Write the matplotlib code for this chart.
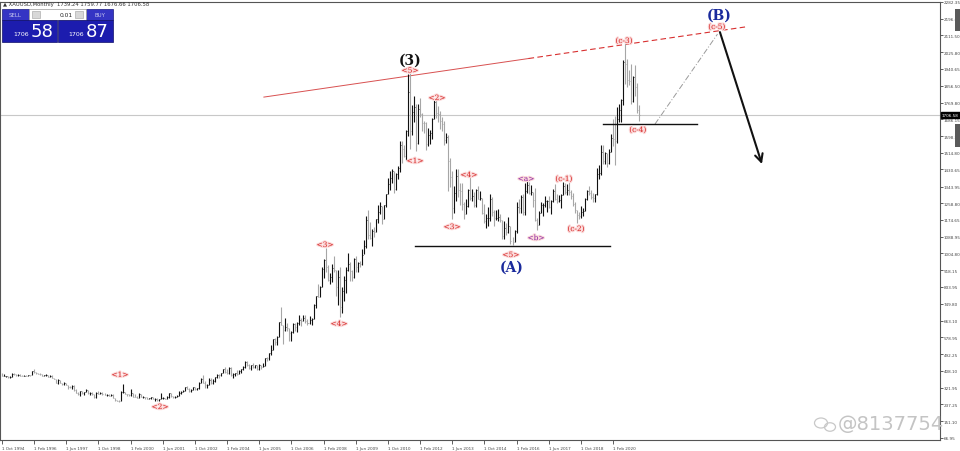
import matplotlib
matplotlib.use("Agg")
import matplotlib.pyplot as plt
import matplotlib.patheffects as pe
from matplotlib.patches import Rectangle, Ellipse

# XAUUSD monthly bars, Oct 1994 .. Mar 2021 (one row per calendar year)
HIGH = [
    396, 390, 384,
    381, 380, 396, 396, 392, 391, 390, 389, 386, 387, 389, 389,
    408, 417, 402, 398, 395, 391, 388, 390, 389, 386, 385, 372,
    368, 367, 361, 348, 349, 346, 335, 332, 336, 337, 315, 300,
    306, 305, 303, 315, 311, 298, 298, 289, 301, 305, 302, 298,
    293, 291, 291, 291, 290, 271, 262, 259, 307, 339, 302, 292,
    292, 317, 296, 289, 281, 294, 290, 279, 276, 275, 270, 276,
    273, 270, 270, 265, 293, 275, 272, 280, 294, 294, 280, 281,
    287, 305, 304, 310, 328, 332, 323, 316, 326, 325, 323, 349,
    370, 389, 354, 341, 372, 372, 366, 376, 394, 392, 399, 417,
    427, 415, 428, 428, 396, 398, 410, 411, 417, 431, 456, 457,
    441, 439, 446, 438, 439, 443, 438, 447, 475, 478, 497, 538,
    571, 573, 586, 654, 730, 643, 677, 650, 628, 609, 652, 649,
    657, 691, 674, 694, 690, 670, 685, 678, 746, 790, 848, 838,
    935, 977, 1033, 947, 907, 951, 989, 920, 918, 937, 833, 887,
    935, 1006, 962, 919, 982, 989, 960, 964, 1025, 1071, 1196, 1227,
    1162, 1127, 1136, 1180, 1249, 1266, 1244, 1251, 1308, 1388, 1425, 1432,
    1424, 1412, 1448, 1576, 1577, 1553, 1632, 1913, 1921, 1757, 1804, 1764,
    1764, 1792, 1718, 1676, 1669, 1641, 1633, 1692, 1788, 1796, 1755, 1726,
    1695, 1677, 1617, 1604, 1488, 1425, 1348, 1434, 1434, 1361, 1361, 1267,
    1280, 1332, 1392, 1331, 1315, 1332, 1345, 1323, 1287, 1256, 1205, 1239,
    1307, 1293, 1223, 1224, 1232, 1205, 1175, 1170, 1157, 1191, 1142, 1088,
    1123, 1263, 1283, 1303, 1304, 1363, 1375, 1366, 1352, 1318, 1337, 1183,
    1220, 1264, 1262, 1295, 1275, 1296, 1274, 1331, 1357, 1306, 1299, 1308,
    1366, 1362, 1356, 1366, 1326, 1309, 1266, 1227, 1214, 1243, 1237, 1284,
    1326, 1347, 1325, 1310, 1306, 1439, 1453, 1555, 1557, 1517, 1516, 1535,
    1611, 1689, 1704, 1747, 1765, 1789, 1984, 2075, 1992, 1933, 1966, 1907,
    1959, 1871, 1760,
]
LOW = [
    383, 381, 375,
    372, 372, 375, 387, 382, 384, 382, 380, 381, 381, 381, 384,
    385, 398, 393, 390, 389, 380, 380, 384, 378, 377, 370, 366,
    344, 340, 346, 337, 336, 334, 318, 320, 318, 306, 295, 283,
    278, 289, 287, 299, 291, 286, 287, 271, 272, 290, 292, 285,
    283, 282, 278, 278, 268, 256, 253, 252, 254, 293, 288, 279,
    280, 282, 275, 273, 270, 272, 275, 270, 267, 263, 263, 267,
    263, 255, 256, 255, 263, 265, 264, 264, 270, 277, 270, 272,
    276, 282, 288, 299, 307, 314, 301, 300, 311, 310, 313, 315,
    344, 347, 320, 319, 335, 342, 342, 351, 373, 371, 380, 397,
    399, 391, 390, 384, 371, 383, 387, 390, 398, 411, 423, 432,
    418, 411, 424, 422, 413, 414, 418, 427, 432, 460, 465, 490,
    513, 538, 538, 581, 640, 542, 612, 612, 561, 560, 602, 610,
    604, 643, 636, 660, 653, 639, 648, 643, 670, 728, 781, 782,
    834, 880, 911, 866, 850, 857, 908, 786, 740, 681, 704, 762,
    802, 917, 866, 865, 879, 910, 908, 934, 945, 999, 1031, 1075,
    1075, 1044, 1089, 1111, 1159, 1203, 1155, 1181, 1242, 1308, 1328, 1364,
    1309, 1327, 1381, 1417, 1462, 1495, 1480, 1601, 1535, 1603, 1672, 1523,
    1562, 1696, 1627, 1614, 1527, 1549, 1562, 1583, 1685, 1693, 1672, 1636,
    1626, 1555, 1563, 1321, 1339, 1180, 1208, 1271, 1292, 1251, 1227, 1180,
    1203, 1240, 1277, 1268, 1240, 1240, 1281, 1273, 1206, 1160, 1131, 1142,
    1167, 1192, 1142, 1175, 1170, 1162, 1077, 1078, 1099, 1106, 1053, 1046,
    1062, 1108, 1207, 1209, 1200, 1200, 1311, 1304, 1302, 1241, 1171, 1122,
    1146, 1208, 1195, 1241, 1214, 1236, 1205, 1265, 1275, 1261, 1264, 1236,
    1302, 1307, 1303, 1301, 1282, 1245, 1211, 1160, 1180, 1183, 1196, 1221,
    1276, 1303, 1281, 1266, 1266, 1301, 1382, 1400, 1459, 1459, 1445, 1459,
    1517, 1548, 1451, 1567, 1670, 1671, 1757, 1863, 1849, 1860, 1764, 1775,
    1803, 1717, 1677,
]
CLOSE = [
    383, 383, 383,
    375, 376, 392, 390, 385, 387, 383, 382, 384, 383, 388, 387,
    406, 401, 396, 393, 391, 382, 385, 387, 379, 380, 371, 369,
    346, 359, 348, 340, 346, 335, 326, 325, 332, 311, 297, 290,
    305, 297, 301, 311, 294, 296, 289, 273, 294, 292, 295, 288,
    287, 287, 280, 287, 269, 261, 256, 255, 299, 299, 291, 290,
    283, 294, 277, 275, 272, 288, 277, 277, 274, 265, 269, 274,
    266, 267, 258, 263, 268, 271, 266, 273, 293, 279, 276, 277,
    282, 297, 301, 308, 327, 318, 305, 313, 324, 317, 319, 347,
    368, 348, 335, 337, 361, 346, 355, 376, 388, 386, 398, 416,
    400, 396, 424, 388, 393, 396, 391, 407, 416, 426, 453, 438,
    422, 436, 428, 436, 415, 437, 429, 433, 473, 471, 496, 513,
    569, 556, 582, 654, 643, 614, 633, 624, 599, 604, 647, 632,
    651, 665, 662, 677, 659, 651, 666, 672, 743, 790, 784, 834,
    923, 972, 934, 871, 886, 930, 918, 833, 885, 731, 815, 870,
    920, 952, 917, 883, 976, 935, 955, 950, 996, 1040, 1176, 1097,
    1081, 1119, 1113, 1180, 1213, 1244, 1181, 1248, 1308, 1358, 1386, 1421,
    1332, 1409, 1439, 1556, 1536, 1500, 1628, 1826, 1624, 1722, 1746, 1564,
    1737, 1711, 1668, 1664, 1560, 1604, 1614, 1687, 1772, 1719, 1712, 1675,
    1663, 1580, 1597, 1472, 1393, 1234, 1313, 1396, 1327, 1323, 1253, 1202,
    1244, 1326, 1284, 1296, 1250, 1327, 1282, 1286, 1210, 1171, 1182, 1184,
    1283, 1213, 1183, 1183, 1191, 1172, 1095, 1132, 1115, 1142, 1065, 1061,
    1118, 1238, 1233, 1292, 1215, 1322, 1350, 1309, 1316, 1276, 1174, 1151,
    1211, 1249, 1249, 1268, 1268, 1242, 1269, 1322, 1280, 1271, 1275, 1303,
    1345, 1318, 1325, 1315, 1298, 1253, 1224, 1201, 1192, 1215, 1222, 1282,
    1321, 1313, 1292, 1284, 1305, 1409, 1413, 1520, 1472, 1512, 1464, 1517,
    1589, 1585, 1577, 1687, 1730, 1781, 1975, 1968, 1886, 1879, 1776, 1898,
    1847, 1734, 1707,
]
FIRST_OPEN = 392
LAST_PRICE = 1706.58

XTICK_LABELS = ["1 Oct 1994", "1 Feb 1996", "1 Jun 1997", "1 Oct 1998",
                "1 Feb 2000", "1 Jun 2001", "1 Oct 2002", "1 Feb 2004",
                "1 Jun 2005", "1 Oct 2006", "1 Feb 2008", "1 Jun 2009",
                "1 Oct 2010", "1 Feb 2012", "1 Jun 2013", "1 Oct 2014",
                "1 Feb 2016", "1 Jun 2017", "1 Oct 2018", "1 Feb 2020"]
YTICKS = [2282.35, 2196.65, 2111.50, 2025.80, 1940.65, 1856.50, 1769.80,
          1686.15, 1598.95, 1514.80, 1430.65, 1343.95, 1258.80, 1174.65,
          1088.95, 1004.80, 918.15, 833.95, 749.80, 663.10, 578.95, 492.25,
          408.10, 321.95, 237.25, 151.10, 66.95]

# wave labels: (month index, price, text, colour)
WAVE_LABELS = [
    (58.7, 387, "<1>", "#d42020"), (78.6, 224, "<2>", "#d42020"),
    (160.7, 1047, "<3>", "#d42020"), (167.7, 646, "<4>", "#d42020"),
    (203, 1932, "<5>", "#d42020"), (205.5, 1473, "<1>", "#d42020"),
    (216.4, 1793, "<2>", "#d42020"), (223.9, 1138, "<3>", "#d42020"),
    (232.3, 1402, "<4>", "#d42020"), (253.2, 996, "<5>", "#d42020"),
    (260.7, 1382, "<a>", "#8a1fa0"), (265.7, 1082, "<b>", "#8a1fa0"),
    (279.6, 1382, "(c-1)", "#d42020"), (285.6, 1128, "(c-2)", "#d42020"),
    (309.5, 2083, "(c-3)", "#d42020"), (316.4, 1631, "(c-4)", "#d42020"),
    (355.7, 2154, "(c-5)", "#d42020"),
]
DEGREE_LABELS = [(203, 1986, "(3)", "#111111"), (253.6, 935, "(A)", "#1a2a9c"),
                 (356.7, 2215, "(B)", "#1a2a9c")]

fig = plt.figure(figsize=(9.6, 4.52), dpi=100)
ax = fig.add_axes([0, 11 / 452, 940 / 960, 438.3 / 452])
ax.set_xlim(-0.995, 466.7)
ax.set_ylim(56.75, 2282.35)

opens = [FIRST_OPEN] + CLOSE[:-1]
idx = list(range(len(HIGH)))
colors = ["#111111" if c >= o else "#a6a6a6" for o, c in zip(opens, CLOSE)]
ax.vlines(idx, LOW, HIGH, colors=colors, lw=0.8, zorder=3)
ax.hlines(CLOSE, idx, [i + 0.5 for i in idx], colors=colors, lw=0.6, zorder=3)

# current price line
ax.axhline(LAST_PRICE, color="#c8c8c8", lw=0.8, zorder=1)

# upper trend line (solid then dashed projection)
tx0, ty0, tx1, ty1 = 130.3, 1798, 369.7, 2154
split = 262
ysplit = ty0 + (split - tx0) / (tx1 - tx0) * (ty1 - ty0)
ax.plot([tx0, split], [ty0, ysplit], color="#d85050", lw=0.7, zorder=2)
ax.plot([split, tx1], [ysplit, ty1], color="#d83030", lw=0.8, ls=(0, (5, 3)), zorder=2)

# supports
ax.plot([205.5, 302.5], [1042, 1042], color="#111111", lw=1.0, zorder=4)
ax.plot([299, 345.8], [1661, 1661], color="#111111", lw=1.0, zorder=4)
# projection to (B) and expected drop
ax.plot([324.9, 356.0], [1661, 2118], color="#9a9a9a", lw=0.7, ls=(0, (6, 2, 1, 2)), zorder=2)
ax.annotate("", xy=(378.1, 1458), xytext=(357.2, 2128),
            arrowprops=dict(arrowstyle="->", color="#111111", lw=1.5,
                            mutation_scale=14, shrinkA=0, shrinkB=0), zorder=5)

halo = [pe.withStroke(linewidth=1.6, foreground="#fbdada")]
for x, y, s, c in WAVE_LABELS:
    ax.text(x, y, s, color=c, fontsize=5.3, family="DejaVu Serif",
            ha="center", va="center", path_effects=halo, zorder=6)
for x, y, s, c in DEGREE_LABELS:
    ax.text(x, y, s, color=c, fontsize=10, family="DejaVu Serif",
            fontweight="bold", ha="center", va="center", zorder=6)

# axes styling, MT4-like
for sp in ax.spines.values():
    sp.set_color("#555555")
    sp.set_linewidth(0.8)
ax.yaxis.tick_right()
ax.set_yticks(YTICKS)
ax.set_yticklabels([f"{v:.2f}" for v in YTICKS])
ax.set_xticks([16 * k for k in range(len(XTICK_LABELS))])
ax.set_xticklabels(XTICK_LABELS)
ax.tick_params(axis="y", labelsize=3.0, colors="#444444", length=2, width=0.6, pad=0.8)
ax.tick_params(axis="x", labelsize=3.0, colors="#444444", length=3, width=0.6, pad=1)
for lab in ax.get_xticklabels():
    lab.set_ha("left")
ax.text(1.002, LAST_PRICE, f"{LAST_PRICE:.2f}", transform=ax.get_yaxis_transform(),
        fontsize=3.0, color="white", va="center", ha="left",
        bbox=dict(boxstyle="square,pad=0.3", fc="black", ec="black"), zorder=7)

# overlay in pixel coordinates for the terminal chrome
ov = fig.add_axes([0, 0, 1, 1], zorder=10)
ov.set_xlim(0, 960)
ov.set_ylim(452, 0)
ov.axis("off")
ov.patch.set_alpha(0)

ov.text(3, 4.5, "\u25b2 XAUUSD,Monthly  1739.24 1759.77 1676.66 1706.58",
        fontsize=3.8, color="#333333", va="center", ha="left")
ov.add_patch(Rectangle((2, 10), 27, 11, fc="#3434c4", ec="#1a1a80", lw=0.5))
ov.add_patch(Rectangle((86, 10), 27, 11, fc="#3434c4", ec="#1a1a80", lw=0.5))
ov.add_patch(Rectangle((29, 10), 57, 11, fc="white", ec="#9a9a9a", lw=0.5))
ov.add_patch(Rectangle((32, 12), 8, 7, fc="#d8d8d8", ec="#a0a0a0", lw=0.4))
ov.add_patch(Rectangle((75, 12), 8, 7, fc="#d8d8d8", ec="#a0a0a0", lw=0.4))
ov.text(15.5, 15.5, "SELL", fontsize=4, color="#c8c8f0", ha="center", va="center")
ov.text(99.5, 15.5, "BUY", fontsize=4, color="#c8c8f0", ha="center", va="center")
ov.text(73, 15.5, "0.01", fontsize=4.3, color="#222222", ha="right", va="center")
ov.add_patch(Rectangle((2, 21), 55, 22, fc="#1c1cae", ec="#10106a", lw=0.5))
ov.add_patch(Rectangle((58, 21), 55, 22, fc="#1c1cae", ec="#10106a", lw=0.5))
ov.text(29, 35, "1706", fontsize=4.5, color="white", ha="right", va="center")
ov.text(31, 32, "58", fontsize=13, color="white", ha="left", va="center")
ov.text(84, 35, "1706", fontsize=4.5, color="white", ha="right", va="center")
ov.text(86, 32, "87", fontsize=13, color="white", ha="left", va="center")

ov.add_patch(Rectangle((955, 10), 5, 22, fc="#5a5a5a", ec="none"))
ov.add_patch(Rectangle((955, 125), 5, 23, fc="#5a5a5a", ec="none"))

# watermark
ov.add_patch(Ellipse((821, 424), 13, 10, fill=False, ec="#c8c8c8", lw=0.9))
ov.add_patch(Ellipse((830, 428), 11, 8.5, fill=False, ec="#c8c8c8", lw=0.9))
ov.text(838, 425, "@8137754", fontsize=14, color="#c4c4c4", ha="left", va="center")

fig.savefig("out.png", dpi=100)
